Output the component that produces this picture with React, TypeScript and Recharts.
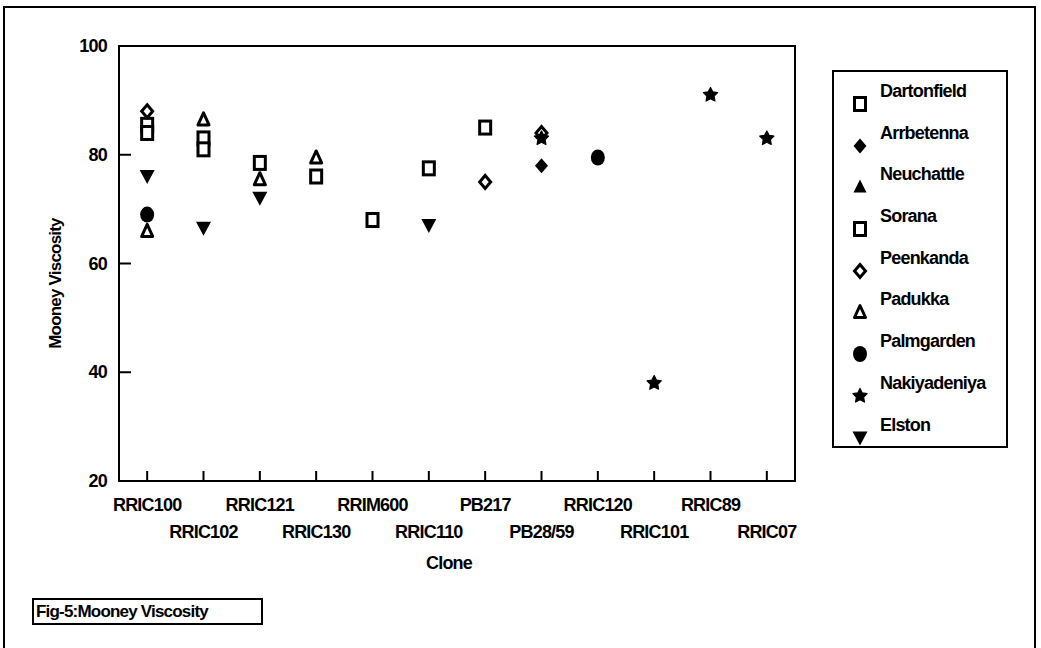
import { ScatterChart, Scatter, XAxis, YAxis, ReferenceArea, Legend, Label } from 'recharts'

const clones = ['RRIC100', 'RRIC102', 'RRIC121', 'RRIC130', 'RRIM600', 'RRIC110', 'PB217', 'PB28/59', 'RRIC120', 'RRIC101', 'RRIC89', 'RRIC07']
const yTicks = [20, 40, 60, 80, 100]

type V = number | null
const dartonfield: V[] = [85.5, 83, 78.5, 76, 68, 77.5, 85, null, null, null, null, null]
const arrbetenna: V[] = [null, null, null, null, null, null, null, 78, null, null, null, null]
const neuchattle: V[] = [null, null, null, null, null, null, null, null, null, null, null, null]
const sorana: V[] = [84, 81, null, null, null, null, null, null, null, null, null, null]
const peenkanda: V[] = [88, null, null, null, null, null, 75, 84, null, null, null, null]
const padukka: V[] = [66, 86.5, 75.5, 79.5, null, null, null, null, null, null, null, null]
const palmgarden: V[] = [69, null, null, null, null, null, null, null, 79.5, null, null, null]
const nakiyadeniya: V[] = [null, null, null, null, null, null, null, 83, null, 38, 91, 83]
const elston: V[] = [76, 66.5, 72, null, null, 67, null, null, null, null, null, null]

type Kind = 'square' | 'diamond' | 'triangle' | 'odiamond' | 'otriangle' | 'circle' | 'star' | 'down'

const series: { name: string; kind: Kind; values: V[] }[] = [
  { name: 'Dartonfield', kind: 'square', values: dartonfield },
  { name: 'Arrbetenna', kind: 'diamond', values: arrbetenna },
  { name: 'Neuchattle', kind: 'triangle', values: neuchattle },
  { name: 'Sorana', kind: 'square', values: sorana },
  { name: 'Peenkanda', kind: 'odiamond', values: peenkanda },
  { name: 'Padukka', kind: 'otriangle', values: padukka },
  { name: 'Palmgarden', kind: 'circle', values: palmgarden },
  { name: 'Nakiyadeniya', kind: 'star', values: nakiyadeniya },
  { name: 'Elston', kind: 'down', values: elston },
]

const FONT = "'Liberation Sans Narrow', 'Liberation Sans', Arial, sans-serif"

function Marker({ kind, cx, cy }: { kind: Kind; cx: number; cy: number }) {
  const k = '#000'
  switch (kind) {
    case 'square':
      return <rect x={cx - 5.5} y={cy - 6.5} width={11} height={13} fill="#fff" stroke={k} strokeWidth={3} />
    case 'diamond':
      return <polygon points={`${cx},${cy - 7.5} ${cx + 6.5},${cy} ${cx},${cy + 7.5} ${cx - 6.5},${cy}`} fill={k} />
    case 'odiamond':
      return <polygon points={`${cx},${cy - 6.5} ${cx + 5.5},${cy} ${cx},${cy + 6.5} ${cx - 5.5},${cy}`} fill="#fff" stroke={k} strokeWidth={3} />
    case 'triangle':
      return <polygon points={`${cx},${cy - 7.5} ${cx + 6.5},${cy + 5.5} ${cx - 6.5},${cy + 5.5}`} fill={k} />
    case 'otriangle':
      return <polygon points={`${cx},${cy - 6.5} ${cx + 5.5},${cy + 5.5} ${cx - 5.5},${cy + 5.5}`} fill="#fff" stroke={k} strokeWidth={3} strokeLinejoin="round" />
    case 'circle':
      return <ellipse cx={cx} cy={cy} rx={7} ry={8} fill={k} />
    case 'down':
      return <polygon points={`${cx - 7.5},${cy - 6.5} ${cx + 7.5},${cy - 6.5} ${cx},${cy + 7.5}`} fill={k} />
    case 'star': {
      const pts: string[] = []
      for (let i = 0; i < 10; i++) {
        const r = i % 2 === 0 ? 7.5 : 3.8
        const a = -Math.PI / 2 + (i * Math.PI) / 5
        pts.push(`${cx + r * Math.cos(a)},${cy + r * Math.sin(a)}`)
      }
      return <polygon points={pts.join(' ')} fill={k} stroke={k} strokeWidth={1.2} strokeLinejoin="round" />
    }
  }
  return null
}

const toPoints = (vals: V[]) =>
  vals.map((v, i) => (v == null ? null : { x: i + 1, y: v })).filter((p) => p !== null) as { x: number; y: number }[]

const textStyle = { fontFamily: FONT, fontWeight: 700, fontSize: 18, letterSpacing: -0.8 }

function XTick(props: any) {
  const { x, y, payload } = props
  const idx = payload.value - 1
  const row = idx % 2 === 0 ? 0 : 1
  return (
    <g>
      <line x1={x} x2={x} y1={y} y2={y - 10} stroke="#000" strokeWidth={2} />
      <text x={x} y={y + 24 + row * 27} textAnchor="middle" dominantBaseline="central" style={textStyle} fill="#000">
        {clones[idx]}
      </text>
    </g>
  )
}

function YTick(props: any) {
  const { x, y, payload } = props
  return (
    <g>
      <line x1={x} x2={x + 12} y1={y} y2={y} stroke="#000" strokeWidth={2} />
      <text x={x - 12} y={y} textAnchor="end" dominantBaseline="central" style={textStyle} fill="#000">
        {payload.value}
      </text>
    </g>
  )
}

function LegendBox() {
  return (
    <div
      style={{
        border: '2px solid #000',
        width: 176,
        height: 378,
        boxSizing: 'border-box',
        paddingTop: 8,
        background: '#fff',
      }}
    >
      {series.map((s) => (
        <div key={s.name} style={{ height: 41.7, position: 'relative' }}>
          <svg width={20} height={20} style={{ position: 'absolute', left: 16, top: 14 }}>
            <Marker kind={s.kind} cx={10} cy={10} />
          </svg>
          <span style={{ ...textStyle, position: 'absolute', left: 46, top: 0, lineHeight: '22px', whiteSpace: 'nowrap' }}>{s.name}</span>
        </div>
      ))}
    </div>
  )
}

export default function App() {
  return (
    <div style={{ position: 'absolute', left: 0, top: 0, width: 1041, height: 648, background: '#fff', overflow: 'hidden' }}>
      <div style={{ position: 'absolute', left: 3, top: 6, width: 1033, height: 700, border: '2px solid #000', boxSizing: 'border-box' }} />
      <ScatterChart width={1041} height={648} margin={{ top: 46, right: 246, bottom: 107, left: 39 }}>
        <XAxis
          type="number"
          dataKey="x"
          domain={[0.5, 12.5]}
          ticks={clones.map((_, i) => i + 1)}
          interval={0}
          height={60}
          tickLine={false}
          tickSize={0}
          tickMargin={0}
          axisLine={{ stroke: '#000', strokeWidth: 2 }}
          tick={<XTick />}
        >
          <Label
            content={(p: any) => (
              <text x={p.viewBox.x + p.viewBox.width / 2 - 8} y={p.viewBox.y + 82} textAnchor="middle" dominantBaseline="central" style={textStyle}>
                Clone
              </text>
            )}
          />
        </XAxis>
        <YAxis
          type="number"
          dataKey="y"
          domain={[20, 100]}
          ticks={yTicks}
          width={80}
          tickLine={false}
          tickSize={0}
          tickMargin={0}
          axisLine={{ stroke: '#000', strokeWidth: 2 }}
          tick={<YTick />}
        >
          <Label
            content={(p: any) => {
              const cx = p.viewBox.x + 16
              const cy = p.viewBox.y + p.viewBox.height / 2 + 20
              return (
                <text x={cx} y={cy} transform={`rotate(-90 ${cx} ${cy})`} textAnchor="middle" dominantBaseline="central" style={{ ...textStyle, fontSize: 17 }}>
                  Mooney Viscosity
                </text>
              )
            }}
          />
        </YAxis>
        <ReferenceArea x1={0.5} x2={12.5} y1={20} y2={100} fill="none" stroke="#000" strokeWidth={2} fillOpacity={0} />
        {series.map((s) => (
          <Scatter
            key={s.name}
            name={s.name}
            data={toPoints(s.values)}
            isAnimationActive={false}
            shape={(p: any) => <Marker kind={s.kind} cx={p.cx} cy={p.cy} />}
          />
        ))}
        <Legend
          layout="vertical"
          align="center"
          verticalAlign="middle"
          wrapperStyle={{ left: 832, top: 70, width: 176, height: 378 }}
          content={() => <LegendBox />}
        />
      </ScatterChart>
      <div
        style={{
          position: 'absolute',
          left: 32,
          top: 598,
          width: 231,
          height: 27,
          border: '2px solid #000',
          boxSizing: 'border-box',
          ...textStyle,
          fontSize: 17,
          lineHeight: '23px',
          paddingLeft: 2,
          whiteSpace: 'nowrap',
        }}
      >
        Fig-5:Mooney Viscosity
      </div>
    </div>
  )
}
